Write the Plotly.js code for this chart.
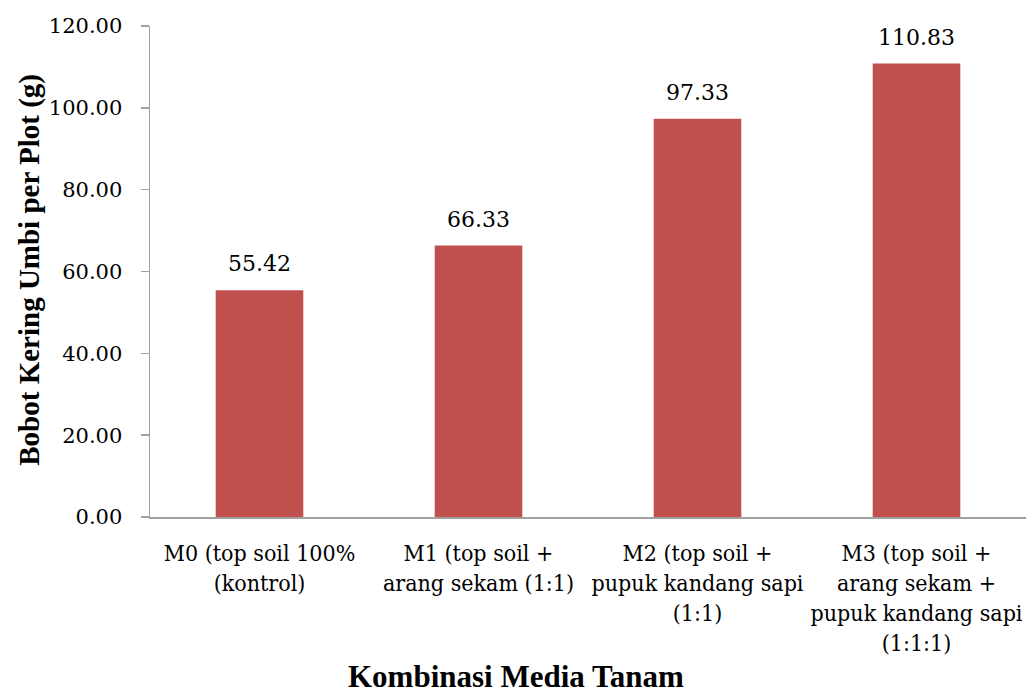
<!DOCTYPE html>
<html>
<head>
<meta charset="utf-8">
<script src="https://cdn.plot.ly/plotly-3.0.1.min.js"></script>
<style>html,body{margin:0;padding:0;background:#fff;}#chart{width:1030px;height:697px;}</style>
</head>
<body>
<div id="chart"></div>
<script>
const categories = [
  "M0 (top soil 100%<br>(kontrol)",
  "M1 (top soil +<br>arang sekam (1:1)",
  "M2 (top soil +<br>pupuk kandang sapi<br>(1:1)",
  "M3 (top soil +<br>arang sekam +<br>pupuk kandang sapi<br>(1:1:1)"
];
const values = [55.42, 66.33, 97.33, 110.83];
const yTickValues = [0, 20, 40, 60, 80, 100, 120];
const yTitle = "Bobot Kering Umbi per Plot (g)";
const xTitle = "Kombinasi Media Tanam";

const serifReg = "DejaVu Serif";
const serifCond = "DejaVu Serif Condensed";
const serifBold = "Liberation Serif";

const trace = {
  type: "bar",
  x: categories,
  y: values,
  width: 0.4,
  marker: {color: "#C0504D"},
  hoverinfo: "none"
};

const valueAnnotations = categories.map((c, i) => ({
  x: c, y: values[i], xref: "x", yref: "y",
  text: values[i].toFixed(2),
  showarrow: false, yanchor: "bottom", yshift: 12,
  font: {family: serifReg, size: 22, color: "#000"}
}));

const layout = {
  width: 1030, height: 697,
  margin: {l: 150, r: 4, t: 26, b: 179.5},
  paper_bgcolor: "#fff", plot_bgcolor: "#fff",
  font: {family: serifReg, color: "#000"},
  showlegend: false,
  bargap: 0.6,
  xaxis: {
    type: "category",
    showline: true, linecolor: "#A0A0A0", linewidth: 1.5,
    ticks: "", showgrid: false, zeroline: false,
    tickfont: {family: serifCond, size: 23, color: "#000"},
    ticklabelstandoff: 15
  },
  yaxis: {
    range: [0, 120],
    tickvals: yTickValues,
    ticktext: yTickValues.map(v => v.toFixed(2)),
    showline: true, linecolor: "#A0A0A0", linewidth: 1.5,
    ticks: "outside", ticklen: 8, tickcolor: "#A0A0A0", tickwidth: 1.5,
    showgrid: false, zeroline: false,
    tickfont: {family: serifReg, size: 21, color: "#000"},
    ticklabelstandoff: 14
  },
  annotations: valueAnnotations.concat([
    {
      xref: "paper", yref: "paper", x: -0.137, y: 0.5036,
      text: "<b>" + yTitle + "</b>", textangle: -90, showarrow: false,
      xanchor: "center", yanchor: "middle",
      font: {family: serifBold, size: 29, color: "#000"}
    },
    {
      xref: "paper", yref: "paper", x: 0.418, y: -0.324,
      text: "<b>" + xTitle + "</b>", showarrow: false,
      xanchor: "center", yanchor: "middle",
      font: {family: serifBold, size: 31, color: "#000"}
    }
  ])
};

Plotly.newPlot("chart", [trace], layout, {displayModeBar: false, staticPlot: true});
</script>
</body>
</html>
